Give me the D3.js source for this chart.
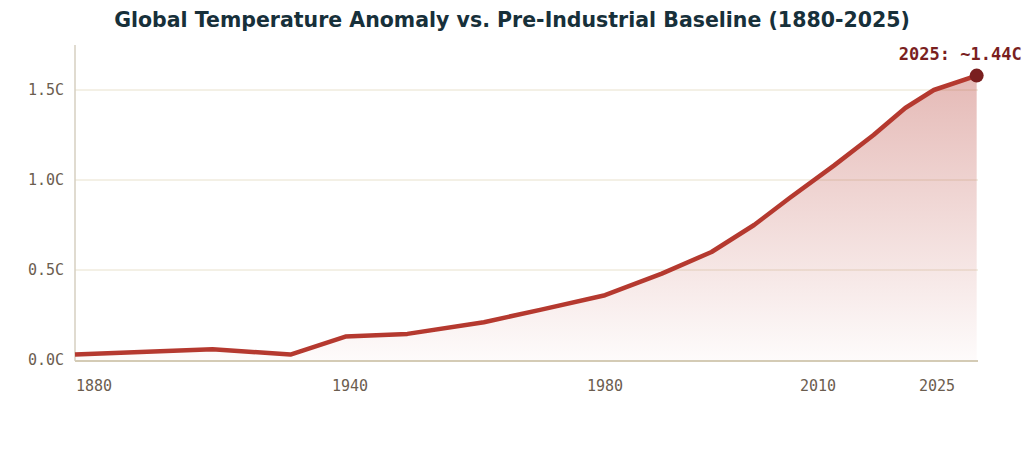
<!DOCTYPE html>
<html>
<head>
<meta charset="utf-8">
<script src="https://cdn.jsdelivr.net/npm/d3@7"></script>
<style>
  body { margin: 0; background: #fff; }
  svg { display: block; }
</style>
</head>
<body>
<svg id="chart" width="1024" height="452"></svg>
<script>
  'use strict';

  var years = [1880, 1910, 1927, 1939, 1949, 1961, 1970, 1980, 1988, 1995, 2001, 2006, 2012, 2017, 2021, 2024.6, 2030];
  var anomaly = [0.03, 0.06, 0.03, 0.13, 0.145, 0.21, 0.28, 0.36, 0.48, 0.6, 0.75, 0.9, 1.08, 1.25, 1.4, 1.5, 1.58];
  var yTicks = [0, 0.5, 1.0, 1.5];
  var xTicks = [1880, 1940, 1980, 2010, 2025];
  var endLabel = '2025: ~1.44C';

  var svg = d3.select('#chart');

  var x = d3.scaleLinear()
    .domain([1880, 1940, 1980, 2010, 2025])
    .range([75, 350, 605, 818, 937]);

  var y = d3.scaleLinear().domain([0, 1.5]).range([360, 90]);

  svg.append('text')
    .attr('x', 512).attr('y', 27)
    .attr('text-anchor', 'middle')
    .style('font', 'bold 20.5px "DejaVu Sans", sans-serif')
    .style('fill', '#17303a')
    .text('Global Temperature Anomaly vs. Pre-Industrial Baseline (1880-2025)');

  var defs = svg.append('defs');
  var grad = defs.append('linearGradient')
    .attr('id', 'fillGrad').attr('x1', 0).attr('y1', 0).attr('x2', 0).attr('y2', 1);
  grad.append('stop').attr('offset', '0%').attr('stop-color', '#b5392f').attr('stop-opacity', 0.35);
  grad.append('stop').attr('offset', '100%').attr('stop-color', '#b5392f').attr('stop-opacity', 0.02);

  // gridlines
  svg.append('g')
    .selectAll('line')
    .data(yTicks.filter(function(d) { return d > 0; }))
    .enter().append('line')
    .attr('x1', 75).attr('x2', 978)
    .attr('y1', function(d) { return y(d); })
    .attr('y2', function(d) { return y(d); })
    .style('stroke', '#e8e1cc').style('stroke-width', 1);

  var pts = years.map(function(d, i) { return [d, anomaly[i]]; });

  svg.append('path')
    .datum(pts)
    .attr('d', d3.area()
      .x(function(d) { return x(d[0]); })
      .y0(y(0))
      .y1(function(d) { return y(d[1]); }))
    .style('fill', 'url(#fillGrad)');

  // axes
  svg.append('line')
    .attr('x1', 75).attr('x2', 75).attr('y1', 45).attr('y2', 361)
    .style('stroke', '#d6cfc0').style('stroke-width', 1.5);
  svg.append('line')
    .attr('x1', 75).attr('x2', 978).attr('y1', 361).attr('y2', 361)
    .style('stroke', '#d4cbb5').style('stroke-width', 2);

  svg.append('g')
    .selectAll('text')
    .data(yTicks)
    .enter().append('text')
    .attr('x', 64)
    .attr('y', function(d) { return y(d) + 5; })
    .attr('text-anchor', 'end')
    .style('font', '15px "DejaVu Sans Mono", monospace')
    .style('fill', '#6b5d4f')
    .text(function(d) { return d.toFixed(1) + 'C'; });

  svg.append('g')
    .selectAll('text')
    .data(xTicks)
    .enter().append('text')
    .attr('x', function(d, i) { return i === 0 ? 76 : x(d); })
    .attr('y', 391)
    .attr('text-anchor', function(d, i) { return i === 0 ? 'start' : 'middle'; })
    .style('font', '15px "DejaVu Sans Mono", monospace')
    .style('fill', '#6b5d4f')
    .text(function(d) { return d; });

  svg.append('path')
    .datum(pts)
    .attr('d', d3.line()
      .x(function(d) { return x(d[0]); })
      .y(function(d) { return y(d[1]); }))
    .style('fill', 'none')
    .style('stroke', '#b5392f')
    .style('stroke-width', 4.5)
    .style('stroke-linejoin', 'round');

  var last = pts[pts.length - 1];
  svg.append('circle')
    .attr('cx', x(last[0])).attr('cy', y(last[1])).attr('r', 7)
    .style('fill', '#7a1f1f');

  svg.append('text')
    .attr('x', x(last[0]) + 45).attr('y', y(last[1]) - 16)
    .attr('text-anchor', 'end')
    .style('font', 'bold 17px "DejaVu Sans Mono", monospace')
    .style('fill', '#7a1f1f')
    .text(endLabel);
</script>
</body>
</html>
